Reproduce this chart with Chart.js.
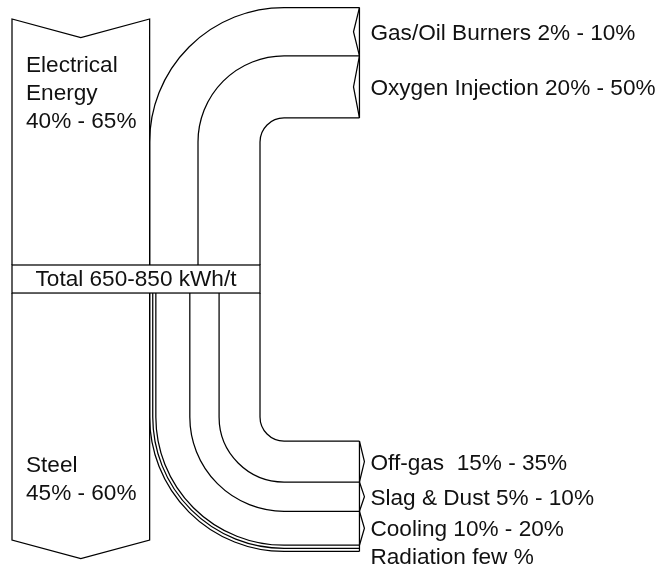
<!DOCTYPE html>
<html>
<head>
    <title>EAF Energy Balance</title>
    <style>
        body {
            margin: 0;
            background: #fff;
        }
        #chart-container {
            width: 658px;
            height: 567px;
        }
    </style>
</head>
<body>
    <div id="chart-container">
        <canvas id="sankey"></canvas>
    </div>
    <script src="https://cdn.jsdelivr.net/npm/chart.js@4"></script>
    <script>
        // inputs, left to right across the total bar
        const inputNames = ['Electrical Energy', 'Gas/Oil Burners', 'Oxygen Injection'];
        const inputRanges = ['40% - 65%', '2% - 10%', '20% - 50%'];
        const inputValues = [55.5, 19.5, 25];

        // outputs, left to right across the total bar
        const outputNames = ['Steel', 'Radiation', 'Cooling', 'Slag & Dust', 'Off-gas '];
        const outputRanges = ['45% - 60%', 'few %', '10% - 20%', '5% - 10%', '15% - 35%'];
        const outputValues = [55.5, 2.5, 13.7, 11.8, 16.5];

        const totalLabel = 'Total 650-850 kWh/t';

        // layout, in flow units
        const barH = 11.3;
        const stemTop = 49.6;
        const stemBottom = 50;
        const innerRadius = 9.7;
        const bandEnd = 140.1;
        const colTop = -99.2;
        const colBottom = 110.9;
        const chevron = 7.5;

        const FONT = '22.6px "Liberation Sans", Arial, sans-serif';

        function cumulate(values) {
            let acc = 0;
            return values.map(v => {
                const start = acc;
                acc += v;
                return [start, acc];
            });
        }

        const sankeyPlugin = {
            id: 'sankey',
            afterDraw(chart) {
                const { ctx } = chart;
                const xs = chart.scales.x, ys = chart.scales.y;
                const px = v => xs.getPixelForValue(v);
                const py = v => ys.getPixelForValue(v);
                const unit = px(1) - px(0);

                const inSpans = cumulate(inputValues);
                const outSpans = cumulate(outputValues);
                const total = inSpans[inSpans.length - 1][1];
                const cx = total + innerRadius;
                const ycTop = -stemTop;
                const ycBot = barH + stemBottom;

                ctx.save();
                ctx.strokeStyle = '#000';
                ctx.lineWidth = 1.25;
                ctx.lineJoin = 'miter';

                // electrical column with notched top
                const [e0, e1] = inSpans[0];
                ctx.beginPath();
                ctx.moveTo(px(e0), py(0));
                ctx.lineTo(px(e0), py(colTop));
                ctx.lineTo(px((e0 + e1) / 2), py(colTop + chevron));
                ctx.lineTo(px(e1), py(colTop));
                ctx.lineTo(px(e1), py(0));
                ctx.stroke();

                // steel column with arrow bottom
                const [s0, s1] = outSpans[0];
                ctx.beginPath();
                ctx.moveTo(px(s0), py(barH));
                ctx.lineTo(px(s0), py(colBottom));
                ctx.lineTo(px((s0 + s1) / 2), py(colBottom + chevron));
                ctx.lineTo(px(s1), py(colBottom));
                ctx.lineTo(px(s1), py(barH));
                ctx.stroke();

                // total bar
                ctx.strokeRect(px(0), py(0), px(total) - px(0), py(barH) - py(0));

                // top flows bending right
                const topEdges = [inSpans[1][0]].concat(inSpans.slice(1).map(s => s[1]));
                topEdges.forEach(b => {
                    const r = cx - b;
                    ctx.beginPath();
                    ctx.moveTo(px(b), py(0));
                    ctx.lineTo(px(b), py(ycTop));
                    ctx.arc(px(cx), py(ycTop), r * unit, Math.PI, 1.5 * Math.PI);
                    ctx.lineTo(px(bandEnd), py(ycTop - r));
                    ctx.stroke();
                });
                ctx.beginPath();
                ctx.moveTo(px(bandEnd), py(ycTop - (cx - topEdges[0])));
                ctx.lineTo(px(bandEnd), py(ycTop - innerRadius));
                ctx.stroke();

                // bottom flows bending right
                const botEdges = [outSpans[1][0]].concat(outSpans.slice(1).map(s => s[1]));
                botEdges.forEach(b => {
                    const r = cx - b;
                    ctx.beginPath();
                    ctx.moveTo(px(b), py(barH));
                    ctx.lineTo(px(b), py(ycBot));
                    ctx.arc(px(cx), py(ycBot), r * unit, Math.PI, 0.5 * Math.PI, true);
                    ctx.lineTo(px(bandEnd), py(ycBot + r));
                    ctx.stroke();
                });
                ctx.beginPath();
                ctx.moveTo(px(bandEnd), py(ycBot + innerRadius));
                ctx.lineTo(px(bandEnd), py(ycBot + (cx - botEdges[0])));
                ctx.stroke();

                ctx.font = FONT;
                ctx.fillStyle = '#111';
                ctx.textAlign = 'left';
                ctx.textBaseline = 'alphabetic';
                const capHalf = 8;
                const lineGap = 28;

                // input notches and labels
                inSpans.slice(1).forEach((s, k) => {
                    const i = k + 1;
                    const yA = ycTop - (cx - s[0]);
                    const yB = ycTop - (cx - s[1]);
                    ctx.beginPath();
                    ctx.moveTo(px(bandEnd), py(yA));
                    ctx.lineTo(px(bandEnd - 2.4), py((yA + yB) / 2));
                    ctx.lineTo(px(bandEnd), py(yB));
                    ctx.stroke();
                    ctx.fillText(inputNames[i] + ' ' + inputRanges[i], px(bandEnd) + 11, py((yA + yB) / 2) + capHalf);
                });

                // output arrows and labels, top to bottom
                let lastBase = -Infinity;
                for (let i = outSpans.length - 1; i >= 1; i--) {
                    const s = outSpans[i];
                    const yA = ycBot + (cx - s[1]);
                    const yB = ycBot + (cx - s[0]);
                    if (outputValues[i] > 5) {
                        ctx.beginPath();
                        ctx.moveTo(px(bandEnd), py(yA));
                        ctx.lineTo(px(bandEnd + 2), py((yA + yB) / 2));
                        ctx.lineTo(px(bandEnd), py(yB));
                        ctx.stroke();
                    } else {
                        // thin band drawn as a double line
                        const rm = cx - (s[0] + s[1]) / 2;
                        ctx.beginPath();
                        ctx.moveTo(px((s[0] + s[1]) / 2), py(barH));
                        ctx.lineTo(px((s[0] + s[1]) / 2), py(ycBot));
                        ctx.arc(px(cx), py(ycBot), rm * unit, Math.PI, 0.5 * Math.PI, true);
                        ctx.lineTo(px(bandEnd), py(ycBot + rm));
                        ctx.stroke();
                    }
                    const base = Math.max(py((yA + yB) / 2) + capHalf, lastBase + lineGap);
                    ctx.fillText(outputNames[i] + ' ' + outputRanges[i], px(bandEnd) + 11, base);
                    lastBase = base;
                }

                // column labels
                const eLines = inputNames[0].split(' ').concat([inputRanges[0]]);
                eLines.forEach((t, k) => ctx.fillText(t, px(e0) + 14, py(colTop) + 53 + k * lineGap));
                const sLines = outputNames[0].split(' ').concat([outputRanges[0]]);
                sLines.forEach((t, k) => ctx.fillText(t, px(s0) + 14, py(barH) + 179 + k * lineGap));

                // total label
                ctx.textAlign = 'center';
                ctx.fillText(totalLabel, px(total / 2), py(barH / 2) + capHalf - 1);

                ctx.restore();
            }
        };

        new Chart('sankey', {
            type: 'scatter',
            data: { datasets: [{ data: [] }] },
            options: {
                responsive: true,
                maintainAspectRatio: false,
                animation: false,
                layout: { padding: 0 },
                plugins: {
                    legend: { display: false },
                    tooltip: { enabled: false }
                },
                scales: {
                    x: { display: false, min: -4.84, max: 260.48 },
                    y: { display: false, reverse: true, min: -106.85, max: 121.77 }
                }
            },
            plugins: [sankeyPlugin]
        });
    </script>
</body>
</html>
